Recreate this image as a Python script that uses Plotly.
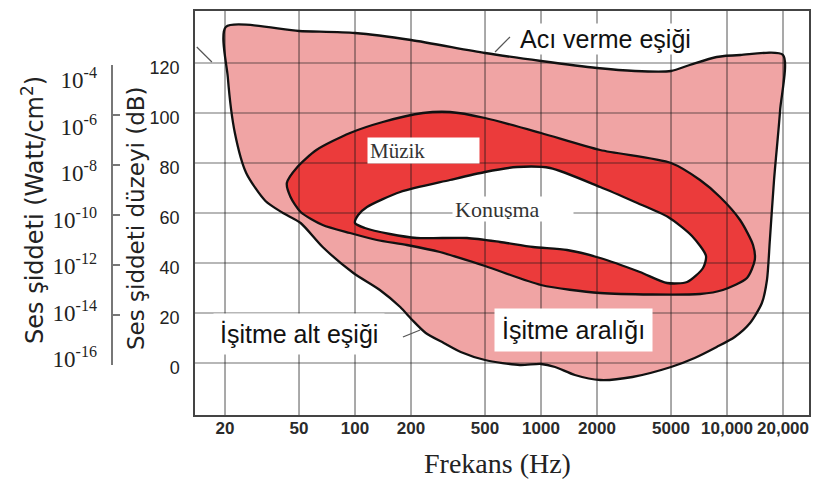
import math
import plotly.graph_objects as go

# Axis ticks
freq_ticks = [20, 50, 100, 200, 500, 1000, 2000, 5000, 10000, 20000]
freq_labels = ["20", "50", "100", "200", "500", "1000", "2000", "5000", "10,000", "20,000"]
level_ticks = [0, 20, 40, 60, 80, 100, 120]
intensity_exp = [-16, -14, -12, -10, -8, -6, -4]

# Hearing range (threshold of pain on top, threshold of hearing below), Hz / dB
hearing_f = [20.2, 50, 100, 200, 500, 1000, 2000, 3200, 5000, 6300, 8800, 11800, 20000,
             19300, 17900, 17000, 16400, 15400, 13300, 11000, 8800, 6700, 5000, 3100,
             2080, 1520, 1190, 1000, 770, 500, 370, 300, 240, 203, 175, 136, 98, 67,
             51, 41, 33, 26, 22.6, 20.7, 20.2]
hearing_db = [134.4, 132.8, 132, 129.2, 124, 120.8, 118, 116.8, 116.8, 119.2, 122.4, 123.2, 123.2,
              101.2, 73.2, 49.2, 33.2, 24, 16, 10.4, 6.4, 2, -1.6, -5.6,
              -6.8, -4.8, -1.6, -0.4, -0.8, 1.2, 4.4, 8, 12, 17.2, 22.4, 29.2, 36, 46.4,
              56, 60, 64.8, 76, 92, 114.4, 134.4]

# Music region
music_f = [43, 49, 62, 94, 141, 232, 324, 500, 1000, 2080, 5000, 7160, 9170, 11750, 13800,
           14100, 12800, 9500, 7160, 2080, 1000, 500, 286, 190, 131, 94, 67, 51, 45, 43]
music_db = [72, 78.4, 85.2, 92, 96.4, 100, 100.4, 98, 92, 85.2, 80, 73.2, 66.4, 57.2, 47.2,
            41.2, 34, 29.2, 27.6, 28, 31.2, 38.8, 44.4, 47.2, 49.2, 52, 55.2, 60.4, 66.4, 72]

# Speech region
speech_f = [100, 104, 116, 175, 324, 500, 743, 1118, 2080, 3200, 4820, 6480, 7710, 7430,
            6100, 4760, 3400, 2080, 1380, 906, 602, 400, 215, 154, 113, 100]
speech_db = [56, 59.2, 62.4, 68.4, 73.2, 76.4, 78.4, 78, 70.4, 64.4, 58.4, 50.8, 42.8, 38,
             32.4, 32, 36.4, 42, 45.2, 46.4, 48.4, 50, 50, 51.6, 54, 56]

# Leader strokes next to the labels
leaders = [
    ([566, 681], [124.4, 130.4]),
    ([14.1, 17.0], [126.4, 120.4]),
    ([181, 224], [10.4, 13.2]),
]

x_range = [1.1397, 4.4408]
y_range = [-20.8, 140.8]

PINK = "#f0a4a4"
RED = "#eb3b3b"
OUTLINE = "#111111"
SERIF = "Liberation Serif, Times New Roman, serif"
SANS = "Arial, Liberation Sans"

fig = go.Figure()

fig.add_trace(go.Scatter(x=hearing_f, y=hearing_db, fill="toself", fillcolor=PINK,
                         mode="lines", line=dict(width=0, shape="spline", smoothing=0.7),
                         hoverinfo="skip", showlegend=False))
fig.add_trace(go.Scatter(x=music_f, y=music_db, fill="toself", fillcolor=RED,
                         mode="lines", line=dict(width=0, shape="spline", smoothing=0.7),
                         hoverinfo="skip", showlegend=False))
fig.add_trace(go.Scatter(x=speech_f, y=speech_db, fill="toself", fillcolor="white",
                         mode="lines", line=dict(width=0, shape="spline", smoothing=0.7),
                         hoverinfo="skip", showlegend=False))

# Grid drawn over the filled regions
gx, gy = [], []
for f in freq_ticks:
    gx += [f, f, None]
    gy += [y_range[0], y_range[1], None]
for lv in level_ticks:
    gx += [10 ** x_range[0], 10 ** x_range[1], None]
    gy += [lv, lv, None]
fig.add_trace(go.Scatter(x=gx, y=gy, mode="lines",
                         line=dict(color="rgba(25,25,25,0.62)", width=1.2),
                         hoverinfo="skip", showlegend=False))

# Outlines
for fx, fy in [(hearing_f, hearing_db), (music_f, music_db), (speech_f, speech_db)]:
    fig.add_trace(go.Scatter(x=fx, y=fy, mode="lines",
                             line=dict(color=OUTLINE, width=2.3, shape="spline", smoothing=0.7),
                             hoverinfo="skip", showlegend=False))

for lx, ly in leaders:
    fig.add_trace(go.Scatter(x=lx, y=ly, mode="lines",
                             line=dict(color="#555555", width=1.2),
                             hoverinfo="skip", showlegend=False))

# Intensity scale (W/cm^2): bracket with ticks (y2) and its labels (y3)
for ax in ("y2", "y3"):
    fig.add_trace(go.Scatter(x=[None], y=[None], yaxis=ax, mode="markers",
                             hoverinfo="skip", showlegend=False))

L, R, T, B = 112, 13, 11, 65
W, H = 822, 480
pw, ph = W - L - R, H - T - B


def px_x(px):
    return (px - L) / pw


def px_y(py):
    return (H - B - py) / ph


fig.update_layout(
    width=W, height=H,
    margin=dict(l=L, r=R, t=T, b=B, autoexpand=False),
    paper_bgcolor="white",
    plot_bgcolor="rgba(0,0,0,0)",
    xaxis=dict(
        type="log", range=x_range, domain=[px_x(195), 1],
        tickvals=freq_ticks, ticktext=freq_labels, tickangle=0, automargin=False,
        tickfont=dict(family=SANS, size=17, color="#2a2a2a", weight="bold"),
        showgrid=False, zeroline=False, ticks="",
        showline=True, linecolor="#444444", linewidth=1.5, mirror=True,
        ticklabelstandoff=-3,
    ),
    yaxis=dict(
        range=y_range, tickvals=level_ticks, automargin=False,
        tickfont=dict(family=SANS, size=18, color="#222222"),
        showgrid=False, zeroline=False, ticks="",
        showline=True, linecolor="#444444", linewidth=1.5, mirror=True,
        ticklabelstandoff=10, ticklabelshift=5,
    ),
    yaxis2=dict(
        anchor="free", position=0, side="left", automargin=False,
        domain=[px_y(365), px_y(65)], range=[0, 120],
        tickvals=level_ticks, showticklabels=False,
        showgrid=False, zeroline=False,
        ticks="inside", ticklen=7, tickwidth=2, tickcolor="#777777",
        showline=True, linecolor="#777777", linewidth=2,
    ),
    yaxis3=dict(
        anchor="free", position=0, side="left", automargin=False,
        domain=[px_y(359), px_y(80)], range=[0, 120],
        tickvals=level_ticks,
        ticktext=[f"10<sup>{e}</sup>" for e in intensity_exp],
        tickfont=dict(family=SERIF, size=23, color="#222222"),
        showgrid=False, zeroline=False, showline=False, ticks="",
        ticklabelstandoff=15,
    ),
)

annotations = [
    dict(text="Acı verme eşiği", x=math.log10(2235), y=129.6,
         font=dict(family=SANS, size=25, color="#111111"),
         bgcolor="white", borderpad=1),
    dict(text="Müzik", x=math.log10(233), y=85, width=107, height=21, align="left",
         font=dict(family=SERIF, size=21, color="#333333"),
         bgcolor="white", borderpad=2),
    dict(text="Konuşma", x=math.log10(707), y=61.6, width=116, height=20, align="left",
         font=dict(family=SERIF, size=22, color="#333333"),
         bgcolor="white", borderpad=2),
    dict(text="İşitme alt eşiği", x=math.log10(49.7), y=11.8,
         font=dict(family=SANS, size=25, color="#111111"),
         bgcolor="white", borderpad=6),
    dict(text="İşitme aralığı", x=math.log10(1495), y=13.2,
         font=dict(family=SANS, size=25, color="#111111"),
         bgcolor="white", borderpad=7),
]
for a in annotations:
    a.update(xref="x", yref="y", showarrow=False)

annotations += [
    dict(text="Frekans (Hz)", x=px_x(497), y=px_y(463),
         font=dict(family=SERIF, size=28, color="#222222")),
    dict(text="Ses şiddeti (Watt/cm<sup>2</sup>)", x=px_x(33), y=px_y(210), textangle=-90,
         font=dict(family="DejaVu Sans", size=24, color="#222222")),
    dict(text="Ses şiddeti düzeyi (dB)", x=px_x(136), y=px_y(218), textangle=-90,
         font=dict(family="DejaVu Sans", size=23, color="#222222")),
]
for a in annotations[5:]:
    a.update(xref="paper", yref="paper", xanchor="center", yanchor="middle", showarrow=False)
fig.update_layout(annotations=annotations)

fig.write_html("out.html")
